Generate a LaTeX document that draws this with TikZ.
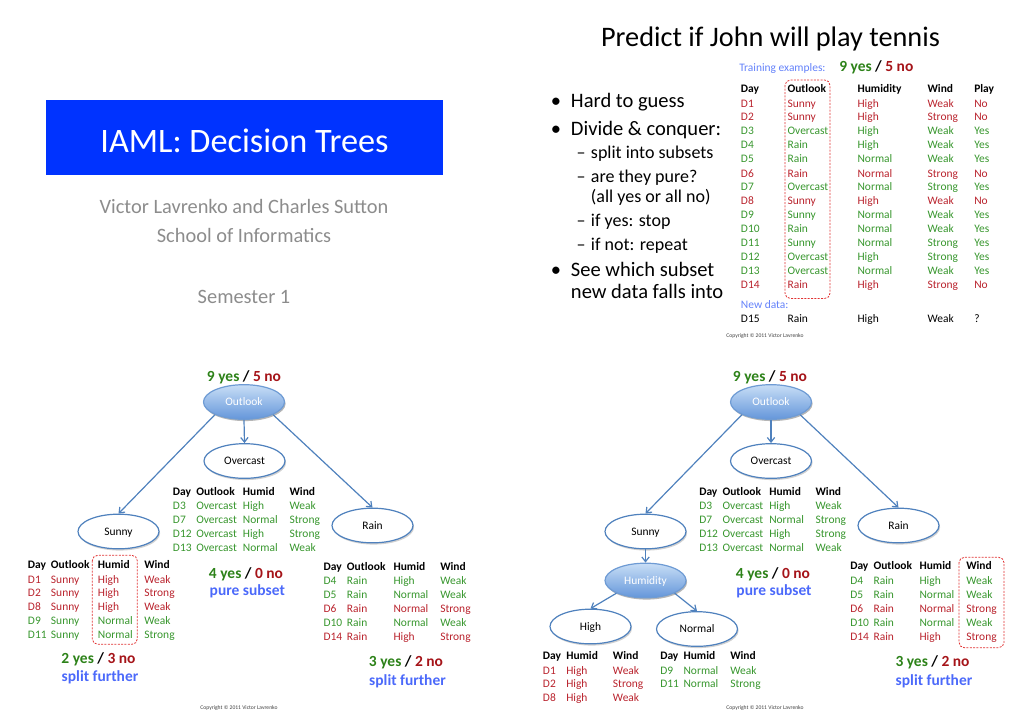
\documentclass[tikz,border=0pt]{standalone}
\usepackage{fontspec}
\setmainfont{Carlito}
\usetikzlibrary{arrows.meta,shadows,shapes.geometric}

\definecolor{yesbold}{RGB}{45,130,25}
\definecolor{nobold}{RGB}{165,20,25}
\definecolor{yestab}{RGB}{55,150,45}
\definecolor{notab}{RGB}{185,35,45}
\definecolor{notebl}{RGB}{75,105,250}
\definecolor{labelbl}{RGB}{100,130,250}
\definecolor{titlebl}{RGB}{0,51,255}
\definecolor{subgray}{RGB}{140,140,140}
\definecolor{edgebl}{RGB}{79,129,189}
\definecolor{splitbd}{RGB}{110,155,212}
\definecolor{splittop}{RGB}{200,222,246}
\definecolor{splitbot}{RGB}{100,150,218}
\definecolor{pickred}{RGB}{225,50,50}

\newcommand\tabfont{\fontsize{8.6pt}{10.3pt}\selectfont}
\newcommand\cntfont{\fontsize{11.6pt}{14pt}\selectfont\bfseries}
\newcommand\bulfont{\fontsize{15.4pt}{18pt}\selectfont}
\newcommand\subfont{\fontsize{13.5pt}{16pt}\selectfont}

% one table row: name prefix, centre y, row style, list of x/text cells
\newcommand\trow[4]{%
  \foreach \cx/\ct [count=\ci] in {#4}{\node[#3] (#1-\ci) at (\cx,#2) {\ct};}}
\newcommand\tally[2]{{\color{yesbold}#1 yes} / {\color{nobold}#2 no}}

\begin{document}
\begin{tikzpicture}[x=0.75pt,y=-0.75pt,
  cell/.style={anchor=west,inner sep=0pt,font=\tabfont,text height=7pt,text depth=1.4pt},
  rowhdr/.style={cell,font=\tabfont\bfseries},
  rowyes/.style={cell,text=yestab},
  rowno/.style={cell,text=notab},
  rowplain/.style={cell},
  count/.style={anchor=base,inner sep=0pt,font=\cntfont},
  note/.style={anchor=base,inner sep=0pt,font=\cntfont,text=notebl},
  oval/.style={ellipse,line width=0.9pt,minimum width=60.75pt,minimum height=26pt,
    inner sep=0pt,font=\tabfont,text height=7pt,text depth=1.4pt},
  leaf/.style={oval,draw=edgebl,fill=white,
    drop shadow={shadow xshift=0.8pt,shadow yshift=-1.3pt,opacity=0.3,fill=black!60}},
  test/.style={oval,draw=splitbd,text=white,top color=splittop,bottom color=splitbot,
    drop shadow={shadow xshift=0.8pt,shadow yshift=-1.3pt,opacity=0.3,
      top color=black!60,bottom color=black!60}},
  branch/.style={draw=edgebl,line width=0.9pt,-{Straight Barb[length=3.5pt,width=5.5pt]}},
  pick/.style={draw=pickred,line width=0.6pt,dash pattern=on 1.5pt off 1pt,rounded corners=4pt},
  bigtext/.style={anchor=base,inner sep=0pt},
  item/.style={anchor=base west,inner sep=0pt},
  bulletmark/.style={anchor=base,inner sep=0pt},
  copy/.style={inner sep=0pt,font=\fontsize{4.2pt}{5pt}\selectfont,text=black!75},
]
\useasboundingbox (0,0) rectangle (1019,714);

% ---------- title slide ----------
\node[fill=titlebl,minimum width=297.75pt,minimum height=56.25pt,inner sep=0pt] (banner) at (244.5,137.5) {};
\node[bigtext,text=white,font=\fontsize{25.7pt}{30pt}\selectfont] (course) at (244.5,152.5) {IAML: Decision Trees};
\node[bigtext,text=subgray,font=\fontsize{15.3pt}{18pt}\selectfont] (authors) at (244,213) {Victor Lavrenko and Charles Sutton};
\node[bigtext,text=subgray,font=\fontsize{15.3pt}{18pt}\selectfont] (school) at (244,242) {School of Informatics};
\node[bigtext,text=subgray,font=\fontsize{15.3pt}{18pt}\selectfont] (term) at (244,303) {Semester 1};

% ---------- training data slide ----------
\node[bigtext,font=\fontsize{21.2pt}{25pt}\selectfont] (head) at (770.5,46) {Predict if John will play tennis};

\node[bulletmark,font=\bulfont] (d1) at (556,107.3) {•};
\node[item,font=\bulfont] (b1) at (570.7,107.3) {Hard to guess};
\node[bulletmark,font=\bulfont] (d2) at (556,135) {•};
\node[item,font=\bulfont] (b2) at (570.7,135) {Divide \& conquer:};
\node[bulletmark,font=\subfont] (e1) at (581,158.3) {–};
\node[item,font=\subfont] (s1) at (590.7,158.3) {split into subsets};
\node[bulletmark,font=\subfont] (e2) at (581,182.3) {–};
\node[item,font=\subfont] (s2) at (590.7,182.3) {are they pure?};
\node[item,font=\subfont] (s2b) at (590.7,202) {(all yes or all no)};
\node[bulletmark,font=\subfont] (e3) at (581,226.7) {–};
\node[item,font=\subfont] (s3) at (590.7,226.7) {if yes: stop};
\node[bulletmark,font=\subfont] (e4) at (581,250) {–};
\node[item,font=\subfont] (s4) at (590.7,250) {if not: repeat};
\node[bulletmark,font=\bulfont] (d3) at (556,276.7) {•};
\node[item,font=\bulfont] (b3) at (570.7,276.7) {See which subset};
\node[item,font=\bulfont] (b3b) at (570.7,298.3) {new data falls into};

\node[item,font=\tabfont,text=labelbl] (trainlbl) at (739,71.7) {Training examples:};
\node[item,font=\cntfont] (traincnt) at (839,71.7) {\tally{9}{5}};

\trow{ph}{88.3}{rowhdr}{740.7/Day,787.3/Outlook,857.3/Humidity,927.3/Wind,974/Play}
\trow{p1}{103.3}{rowno}{740.7/D1,787.3/Sunny,857.3/High,927.3/Weak,974/No}
\trow{p2}{116.3}{rowno}{740.7/D2,787.3/Sunny,857.3/High,927.3/Strong,974/No}
\trow{p3}{130.3}{rowyes}{740.7/D3,787.3/Overcast,857.3/High,927.3/Weak,974/Yes}
\trow{p4}{144.3}{rowyes}{740.7/D4,787.3/Rain,857.3/High,927.3/Weak,974/Yes}
\trow{p5}{158.3}{rowyes}{740.7/D5,787.3/Rain,857.3/Normal,927.3/Weak,974/Yes}
\trow{p6}{173.3}{rowno}{740.7/D6,787.3/Rain,857.3/Normal,927.3/Strong,974/No}
\trow{p7}{186.3}{rowyes}{740.7/D7,787.3/Overcast,857.3/Normal,927.3/Strong,974/Yes}
\trow{p8}{200.3}{rowno}{740.7/D8,787.3/Sunny,857.3/High,927.3/Weak,974/No}
\trow{p9}{214.3}{rowyes}{740.7/D9,787.3/Sunny,857.3/Normal,927.3/Weak,974/Yes}
\trow{p10}{228.3}{rowyes}{740.7/D10,787.3/Rain,857.3/Normal,927.3/Weak,974/Yes}
\trow{p11}{242.3}{rowyes}{740.7/D11,787.3/Sunny,857.3/Normal,927.3/Strong,974/Yes}
\trow{p12}{256.3}{rowyes}{740.7/D12,787.3/Overcast,857.3/High,927.3/Strong,974/Yes}
\trow{p13}{270.3}{rowyes}{740.7/D13,787.3/Overcast,857.3/Normal,927.3/Weak,974/Yes}
\trow{p14}{284.3}{rowno}{740.7/D14,787.3/Rain,857.3/High,927.3/Strong,974/No}
\node[cell,text=labelbl] (newlbl) at (740.7,304.3) {New data:};
\trow{p15}{318.3}{rowplain}{740.7/D15,787.3/Rain,857.3/High,927.3/Weak,974/?}
\draw[pick] (785,80) rectangle (830,298.5);
\node[copy] (copy1) at (765,336) {Copyright © 2011 Victor Lavrenko};

% ---------- first split ----------
\node[count] (lcnt) at (244,381) {\tally{9}{5}};
\node[test] (lout) at (244,402) {Outlook};
\node[leaf] (lov) at (244.5,461) {Overcast};
\node[leaf] (lsun) at (118.5,531.5) {Sunny};
\node[leaf] (lrain) at (372.5,525.5) {Rain};
\draw[branch] (lout.south west) -- (lsun.north);
\draw[branch] (lout.south) -- (lov.north);
\draw[branch] (lout.south east) -- (lrain.north);

\trow{loh}{491.7}{rowhdr}{172.7/Day,196/Outlook,242.7/Humid,289.3/Wind}
\trow{lo1}{505.3}{rowyes}{172.7/D3,196/Overcast,242.7/High,289.3/Weak}
\trow{lo2}{519.3}{rowyes}{172.7/D7,196/Overcast,242.7/Normal,289.3/Strong}
\trow{lo3}{533.3}{rowyes}{172.7/D12,196/Overcast,242.7/High,289.3/Strong}
\trow{lo4}{547.3}{rowyes}{172.7/D13,196/Overcast,242.7/Normal,289.3/Weak}
\node[count] (locnt) at (246,578.3) {\tally{4}{0}};
\node[note] (lonote) at (247.3,595) {pure subset};

\trow{lsh}{564.3}{rowhdr}{27.7/Day,50.7/Outlook,97.7/Humid,144/Wind}
\trow{ls1}{579.3}{rowno}{27.7/D1,50.7/Sunny,97.7/High,144/Weak}
\trow{ls2}{592.7}{rowno}{27.7/D2,50.7/Sunny,97.7/High,144/Strong}
\trow{ls3}{606.3}{rowno}{27.7/D8,50.7/Sunny,97.7/High,144/Weak}
\trow{ls4}{620.3}{rowyes}{27.7/D9,50.7/Sunny,97.7/Normal,144/Weak}
\trow{ls5}{634.3}{rowyes}{27.7/D11,50.7/Sunny,97.7/Normal,144/Strong}
\draw[pick] (92.3,555.3) rectangle (137.3,644.3);
\node[count] (lscnt) at (98.5,663) {\tally{2}{3}};
\node[note] (lsnote) at (100,681.7) {split further};

\trow{lrh}{566.7}{rowhdr}{323.3/Day,346.7/Outlook,393.3/Humid,440/Wind}
\trow{lr1}{580.3}{rowyes}{323.3/D4,346.7/Rain,393.3/High,440/Weak}
\trow{lr2}{594.3}{rowyes}{323.3/D5,346.7/Rain,393.3/Normal,440/Weak}
\trow{lr3}{608.3}{rowno}{323.3/D6,346.7/Rain,393.3/Normal,440/Strong}
\trow{lr4}{622.3}{rowyes}{323.3/D10,346.7/Rain,393.3/Normal,440/Weak}
\trow{lr5}{636.3}{rowno}{323.3/D14,346.7/Rain,393.3/High,440/Strong}
\node[count] (lrcnt) at (406,666) {\tally{3}{2}};
\node[note] (lrnote) at (407.5,685) {split further};
\node[copy] (copy2) at (239,708) {Copyright © 2011 Victor Lavrenko};

% ---------- second split ----------
\node[count] (rcnt) at (770,381) {\tally{9}{5}};
\node[test] (rout) at (771,402) {Outlook};
\node[leaf] (rov) at (771,461) {Overcast};
\node[leaf] (rsun) at (645.5,531.5) {Sunny};
\node[leaf] (rrain) at (898.5,525.5) {Rain};
\node[test] (rhum) at (645.5,580.5) {Humidity};
\node[leaf] (rhigh) at (590.5,626.5) {High};
\node[leaf] (rnorm) at (697,629) {Normal};
\draw[branch] (rout.south west) -- (rsun.north);
\draw[branch] (rout.south) -- (rov.north);
\draw[branch] (rout.south east) -- (rrain.north);
\draw[branch] (rsun.south) -- (rhum.north);
\draw[branch] (rhum.south west) -- (rhigh.north);
\draw[branch] (rhum.south east) -- (rnorm.north);

\trow{roh}{491.7}{rowhdr}{699/Day,722.3/Outlook,769/Humid,815.3/Wind}
\trow{ro1}{505.3}{rowyes}{699/D3,722.3/Overcast,769/High,815.3/Weak}
\trow{ro2}{519.3}{rowyes}{699/D7,722.3/Overcast,769/Normal,815.3/Strong}
\trow{ro3}{533.3}{rowyes}{699/D12,722.3/Overcast,769/High,815.3/Strong}
\trow{ro4}{547.3}{rowyes}{699/D13,722.3/Overcast,769/Normal,815.3/Weak}
\node[count] (rocnt) at (773,578.3) {\tally{4}{0}};
\node[note] (ronote) at (774,595) {pure subset};

\trow{rrh}{566}{rowhdr}{850/Day,873.3/Outlook,919.3/Humid,966/Wind}
\trow{rr1}{580.7}{rowyes}{850/D4,873.3/Rain,919.3/High,966/Weak}
\trow{rr2}{594.3}{rowyes}{850/D5,873.3/Rain,919.3/Normal,966/Weak}
\trow{rr3}{608.3}{rowno}{850/D6,873.3/Rain,919.3/Normal,966/Strong}
\trow{rr4}{622.3}{rowyes}{850/D10,873.3/Rain,919.3/Normal,966/Weak}
\trow{rr5}{636.3}{rowno}{850/D14,873.3/Rain,919.3/High,966/Strong}
\draw[pick] (959,557.3) rectangle (1004,647.7);
\node[count] (rrcnt) at (932.5,666) {\tally{3}{2}};
\node[note] (rrnote) at (934,685) {split further};

\trow{rhh}{655.3}{rowhdr}{542.7/Day,566/Humid,612.7/Wind}
\trow{rh1}{670.3}{rowno}{542.7/D1,566/High,612.7/Weak}
\trow{rh2}{683.3}{rowno}{542.7/D2,566/High,612.7/Strong}
\trow{rh3}{697.3}{rowno}{542.7/D8,566/High,612.7/Weak}

\trow{rnh}{655.3}{rowhdr}{660/Day,683.3/Humid,730/Wind}
\trow{rn1}{670.3}{rowyes}{660/D9,683.3/Normal,730/Weak}
\trow{rn2}{683.3}{rowyes}{660/D11,683.3/Normal,730/Strong}
\node[copy] (copy3) at (765,708) {Copyright © 2011 Victor Lavrenko};
\end{tikzpicture}
\end{document}
